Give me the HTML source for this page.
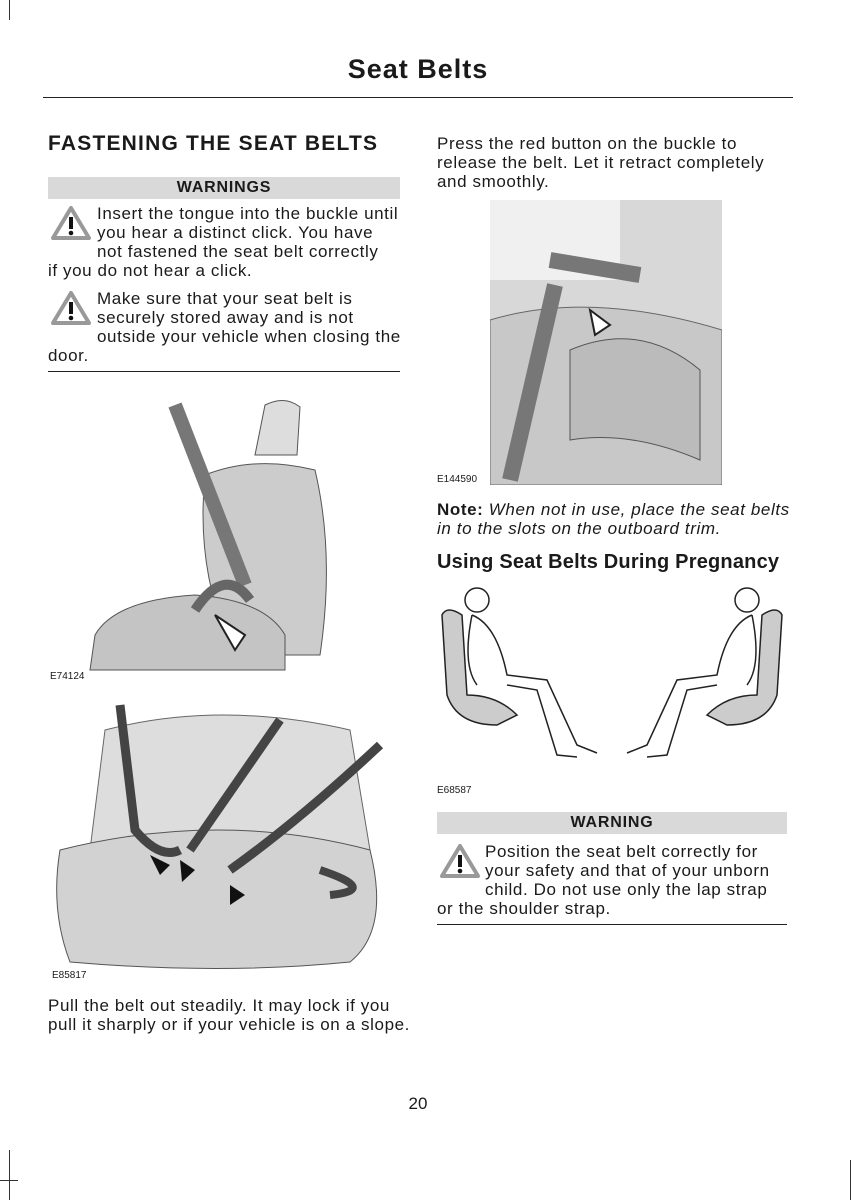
<!DOCTYPE html>
<html><head><meta charset="utf-8"><style>
body{margin:0;background:#fff;}
#p{position:relative;width:861px;height:1200px;overflow:hidden;font-family:"Liberation Sans",sans-serif;color:#1a1a1a;}
.a{position:absolute;}
.t{font-size:17px;line-height:19px;white-space:nowrap;letter-spacing:0.6px;}
.bar{background:#d9d9d9;font-weight:bold;font-size:16px;text-align:center;line-height:22px;letter-spacing:0.8px;}
.rule{height:1px;background:#222;}
.lbl{font-size:10px;}
</style></head><body><div id="p">
<div class="a" style="left:9px;top:0;width:1px;height:20px;background:#333"></div>
<div class="a" style="left:9px;top:1150px;width:1px;height:50px;background:#333"></div>
<div class="a" style="left:0;top:1180px;width:18px;height:1px;background:#333"></div>
<div class="a" style="left:850px;top:1160px;width:1px;height:40px;background:#333"></div>
<div class="a" style="left:0;top:54px;width:836px;text-align:center;font-weight:bold;font-size:27px;letter-spacing:1px">Seat Belts</div>
<div class="a rule" style="left:43px;top:97px;width:750px"></div>

<div class="a" style="left:48px;top:132px;font-weight:bold;font-size:21px;letter-spacing:1.2px">FASTENING THE SEAT BELTS</div>
<div class="a bar" style="left:48px;top:177px;width:352px">WARNINGS</div>
<svg class="a" style="left:50px;top:205px" width="42" height="36"><path d="M21 3 L39 33 L3 33 Z" fill="none" stroke="#999" stroke-width="4" stroke-linejoin="round"/><rect x="19" y="12" width="4" height="12" fill="#111"/><circle cx="21" cy="28" r="2.3" fill="#111"/></svg>
<svg class="a" style="left:50px;top:290px" width="42" height="36"><path d="M21 3 L39 33 L3 33 Z" fill="none" stroke="#999" stroke-width="4" stroke-linejoin="round"/><rect x="19" y="12" width="4" height="12" fill="#111"/><circle cx="21" cy="28" r="2.3" fill="#111"/></svg>
<div class="a t" style="left:97px;top:204px">Insert the tongue into the buckle until<br>you hear a distinct click. You have<br>not fastened the seat belt correctly</div>
<div class="a t" style="left:48px;top:261px">if you do not hear a click.</div>
<div class="a t" style="left:97px;top:289px">Make sure that your seat belt is<br>securely stored away and is not<br>outside your vehicle when closing the</div>
<div class="a t" style="left:48px;top:346px">door.</div>
<div class="a rule" style="left:48px;top:371px;width:352px"></div>

<svg class="a" style="left:85px;top:395px" width="250" height="280">
<path d="M180 10 Q200 0 215 12 L212 60 L170 60 Z" fill="#ddd" stroke="#555"/>
<path d="M120 80 Q170 60 230 75 Q250 160 235 260 L150 260 Q110 180 120 80Z" fill="#ccc" stroke="#555"/>
<path d="M10 240 Q30 205 110 200 Q180 205 200 240 L200 275 L5 275Z" fill="#c4c4c4" stroke="#555"/>
<path d="M90 10 L160 190" stroke="#777" stroke-width="14"/>
<path d="M110 215 Q140 170 165 205" stroke="#666" stroke-width="10" fill="none"/>
<path d="M130 220 L160 240 L150 255 Z" fill="#fff" stroke="#222" stroke-width="2"/>
</svg>
<div class="a lbl" style="left:50px;top:671px">E74124</div>

<svg class="a" style="left:50px;top:700px" width="340" height="275">
<path d="M55 30 Q170 0 300 30 L320 150 L40 150 Z" fill="#ddd" stroke="#666"/>
<path d="M10 150 Q170 110 320 150 Q340 230 300 262 Q170 275 20 262 Q0 210 10 150Z" fill="#d2d2d2" stroke="#555"/>
<path d="M70 5 L85 130 Q110 160 130 150" stroke="#444" stroke-width="9" fill="none"/>
<path d="M230 20 L140 150" stroke="#444" stroke-width="9" fill="none"/>
<path d="M330 45 Q250 120 180 170" stroke="#444" stroke-width="9" fill="none"/>
<path d="M270 170 Q330 190 280 195" stroke="#444" stroke-width="8" fill="none"/>
<path d="M100 155 L120 165 L110 175Z M130 160 L145 170 L132 182Z M180 185 L195 195 L180 205Z" fill="#111"/>
</svg>
<div class="a lbl" style="left:52px;top:970px">E85817</div>
<div class="a t" style="left:48px;top:996px">Pull the belt out steadily. It may lock if you<br>pull it sharply or if your vehicle is on a slope.</div>

<div class="a t" style="left:437px;top:134px">Press the red button on the buckle to<br>release the belt. Let it retract completely<br>and smoothly.</div>
<svg class="a" style="left:490px;top:200px" width="232" height="285">
<rect x="0" y="0" width="232" height="285" fill="#d8d8d8"/>
<rect x="0" y="0" width="130" height="80" fill="#f0f0f0"/>
<path d="M0 120 Q100 90 232 130 L232 285 L0 285Z" fill="#c8c8c8" stroke="#666"/>
<path d="M80 150 Q150 120 210 170 L210 260 Q140 230 80 240Z" fill="#bbb" stroke="#555"/>
<path d="M60 60 L150 75 M65 85 L20 280" stroke="#777" stroke-width="16" fill="none"/>
<path d="M100 110 L120 125 L105 135Z" fill="#fff" stroke="#222" stroke-width="2"/>
</svg>
<div class="a lbl" style="left:437px;top:474px">E144590</div>
<div class="a t" style="left:437px;top:500px"><b>Note:</b> <i>When not in use, place the seat belts<br>in to the slots on the outboard trim.</i></div>
<div class="a" style="left:437px;top:551px;font-weight:bold;font-size:20px;letter-spacing:0.2px">Using Seat Belts During Pregnancy</div>
<svg class="a" style="left:437px;top:585px" width="350" height="190" fill="none" stroke="#222" stroke-width="1.5">
<path d="M5 30 Q10 20 25 30 L30 110 Q60 110 80 130 L60 140 Q20 140 10 110Z" fill="#ccc"/>
<circle cx="40" cy="15" r="12"/><path d="M35 30 Q60 40 70 90 L110 95 L140 160 L160 168 M70 100 L100 105 L120 170 L140 172 M35 30 Q25 80 40 100"/>
<path d="M345 30 Q340 20 325 30 L320 110 Q290 110 270 130 L290 140 Q330 140 340 110Z" fill="#ccc"/>
<circle cx="310" cy="15" r="12"/><path d="M315 30 Q290 40 280 90 L240 95 L210 160 L190 168 M280 100 L250 105 L230 170 L210 172 M315 30 Q325 80 310 100"/>
</svg>
<div class="a lbl" style="left:437px;top:785px">E68587</div>
<div class="a bar" style="left:437px;top:812px;width:350px">WARNING</div>
<svg class="a" style="left:439px;top:843px" width="42" height="36"><path d="M21 3 L39 33 L3 33 Z" fill="none" stroke="#999" stroke-width="4" stroke-linejoin="round"/><rect x="19" y="12" width="4" height="12" fill="#111"/><circle cx="21" cy="28" r="2.3" fill="#111"/></svg>
<div class="a t" style="left:485px;top:842px">Position the seat belt correctly for<br>your safety and that of your unborn<br>child. Do not use only the lap strap</div>
<div class="a t" style="left:437px;top:899px">or the shoulder strap.</div>
<div class="a rule" style="left:437px;top:924px;width:350px"></div>
<div class="a" style="left:0;top:1094px;width:836px;text-align:center;font-size:17px">20</div>
</div></body></html>
